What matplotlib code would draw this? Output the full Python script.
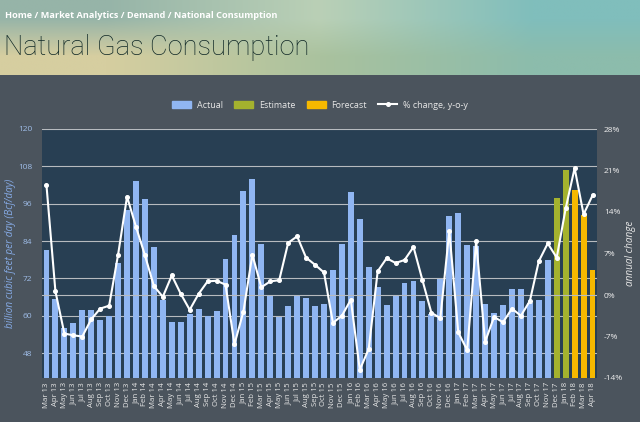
import matplotlib
matplotlib.use("Agg")
import matplotlib.pyplot as plt
import matplotlib.patches as mpatches
import matplotlib.lines as mlines
import numpy as np
import pandas as pd

months = list(pd.date_range("2013-03-01", "2018-04-01", freq="MS").strftime("%b %y"))

actual = [81, 65.3, 56.2, 57.8, 61.9, 62, 58.6, 60, 77.1, 94,
          103.2, 97.5, 82.1, 65.1, 58, 58, 60.5, 62.1, 60, 61.5, 78.2, 86,
          100.2, 103.9, 83.2, 66.4, 59.7, 63.2, 66.4, 65.8, 63.2, 63.9, 74.6, 83.0,
          99.6, 91.0, 75.8, 69.3, 63.5, 66.4, 70.5, 71.2, 64.6, 60.7, 71.7, 92.1,
          93.0, 82.8, 82.5, 63.9, 60.8, 63.5, 68.5, 68.5, 64.0, 65.1, 77.9]
estimate = [97.8, 106.9]
forecast = [100.5, 92.3, 74.6]
pct_change = [18.5, 0.6, -6.5, -6.8, -7.0, -4.1, -2.3, -1.8, 6.8, 16.6,
              11.5, 6.7, 1.5, -0.3, 3.3, 0.2, -2.5, 0.2, 2.3, 2.4, 1.75, -8.3,
              -2.8, 6.8, 1.3, 2.3, 2.5, 8.8, 9.9, 6.3, 5.1, 3.8, -4.7, -3.5,
              -0.8, -12.6, -9.1, 4.0, 6.2, 5.4, 5.9, 8.1, 2.5, -3.0, -3.9, 10.8,
              -6.3, -9.3, 9.1, -7.9, -3.7, -4.6, -2.3, -3.5, -1.0, 5.7, 8.7, 6.3,
              14.6, 21.4, 13.6, 16.8]

left_ticks = [48, 60, 72, 84, 96, 108, 120]
right_ticks = [-14, -7, 0, 7, 14, 21, 28]

c_actual = "#90b6f2"
c_est = "#a4b22e"
c_fore = "#f6b900"
panel = "#4b545d"
plotbg = "#283f53"

fig = plt.figure(figsize=(6.4, 4.22), dpi=100)
fig.patch.set_facecolor(panel)

# header gradient
hdr = fig.add_axes([0, 1 - 75 / 422, 1, 75 / 422])
corners = np.array([[[150, 180, 168], [186, 208, 182], [128, 190, 188]],
                    [[214, 206, 160], [170, 194, 158], [140, 188, 172]]]) / 255
hdr.imshow(corners, aspect="auto", interpolation="bilinear", extent=[0, 1, 0, 1])
hdr.set_axis_off()
hdr.text(0.008, 0.79, "Home / Market Analytics / Demand / National Consumption",
         color="white", fontsize=6.6, fontweight="bold", family="Open Sans",
         va="center", ha="left", transform=hdr.transAxes)
hdr.text(0.006, 0.37, "Natural Gas Consumption", color="#102826", fontsize=19.6,
         family="Roboto", fontweight="light", va="center", ha="left",
         transform=hdr.transAxes)

ax = fig.add_axes([42 / 640, 44 / 422, 555 / 640, 249 / 422])
ax.set_facecolor(plotbg)
x = np.arange(len(months))
n_a = len(actual)
ax.bar(x[:n_a], actual, width=0.66, color=c_actual, zorder=2)
ax.bar(x[n_a:n_a + len(estimate)], estimate, width=0.66, color=c_est, zorder=2)
ax.bar(x[n_a + len(estimate):], forecast, width=0.66, color=c_fore, zorder=2)
ax.set_xlim(-0.5, len(months) - 0.5)
ax.set_ylim(40, 120)
ax.set_yticks(left_ticks)
ax.set_xticks(x)
ax.set_xticklabels(months, rotation=90, fontsize=5.6, color="#e6e6e6", family="Open Sans")
ax.tick_params(axis="y", labelsize=6.0, labelcolor="#9fbde8", length=0, pad=7)
ax.tick_params(axis="x", length=0, pad=3)
for lab in ax.get_yticklabels():
    lab.set_family("Open Sans")
ax.yaxis.grid(True, color="#b7bbbf", lw=0.8, zorder=1)
for s in ax.spines.values():
    s.set_visible(False)

ax2 = ax.twinx()
ax2.set_ylim(-14, 28)
ax2.set_yticks(right_ticks)
ax2.set_yticklabels([f"{t}%" for t in right_ticks], family="Open Sans")
ax2.tick_params(axis="y", labelsize=6.0, labelcolor="#eeeeee", length=0, pad=5)
ax2.axhline(0, color="#b7bbbf", lw=0.8, zorder=1)
ax2.plot(x, pct_change, color="white", lw=1.5, marker="o", ms=2.6, zorder=5)
for s in ax2.spines.values():
    s.set_visible(False)

fig.text(11 / 640, 1 - 253 / 422, "billion cubic feet per day (Bcf/day)", color="#86abe6",
         fontsize=7.2, style="italic", family="Open Sans", rotation=90,
         ha="center", va="center")
fig.text(631 / 640, 1 - 253 / 422, "annual change", color="#e6e6e6",
         fontsize=7.2, style="italic", family="Open Sans", rotation=90,
         ha="center", va="center")

handles = [mpatches.Patch(color=c_actual, label="Actual"),
           mpatches.Patch(color=c_est, label="Estimate"),
           mpatches.Patch(color=c_fore, label="Forecast"),
           mlines.Line2D([], [], color="white", lw=1.5, marker="o", ms=2.6,
                         label="% change, y-o-y")]
leg = fig.legend(handles=handles, loc="center", bbox_to_anchor=(0.5, 1 - 105 / 422),
                 ncol=4, frameon=False, handlelength=2.1,
                 handleheight=0.9, columnspacing=1.3, handletextpad=0.6,
                 prop={"family": "Open Sans", "size": 6.5})
for t in leg.get_texts():
    t.set_color("#e6e6e6")

fig.savefig("out.png", dpi=100, facecolor=fig.get_facecolor())
